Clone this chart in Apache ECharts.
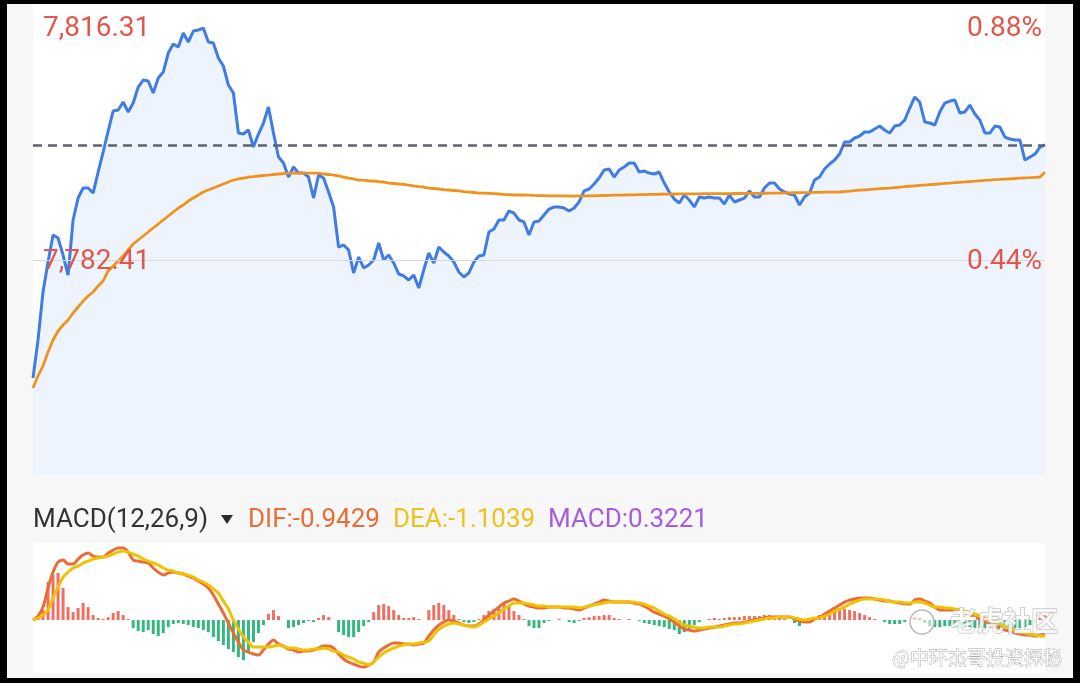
<!DOCTYPE html>
<html>
<head>
<meta charset="utf-8">
<script src="https://cdn.jsdelivr.net/npm/echarts@6/dist/echarts.min.js"></script>
<style>
html,body{margin:0;padding:0;background:#000;}
#c{width:1080px;height:683px;}
</style>
</head>
<body>
<div id="c"></div>
<script>
// ---- intraday price (one point per bar) ----
const price = [
7765.17,7770.73,7777.74,7782.12,7786.07,7785.63,7783.14,7780.22,7788.26,7791.47,
7792.93,7792.93,7792.20,7795.27,7798.19,7801.26,7804.18,7804.33,7805.50,7804.04,
7805.35,7807.69,7808.71,7808.57,7806.81,7809.00,7809.88,7812.66,7813.97,7813.53,
7815.58,7814.26,7815.87,7816.02,7816.31,7814.26,7814.12,7811.93,7810.76,7807.98,
7806.81,7800.97,7800.82,7801.41,7798.92,7800.82,7802.43,7804.77,7800.97,7797.46,
7796.59,7794.54,7796.00,7795.12,7795.12,7794.54,7791.47,7794.83,7794.39,7792.35,
7790.16,7784.31,7784.61,7783.88,7780.52,7782.85,7781.25,7781.68,7782.41,7784.90,
7782.41,7783.14,7781.98,7780.37,7780.08,7779.49,7780.22,7778.32,7780.95,7783.44,
7781.98,7784.31,7783.58,7783.00,7782.12,7780.66,7779.93,7780.52,7782.12,7783.00,
7783.14,7786.51,7786.94,7788.26,7788.26,7789.57,7789.28,7788.26,7787.97,7786.07,
7787.97,7788.11,7788.99,7789.86,7790.16,7790.16,7790.01,7789.57,7790.01,7790.89,
7792.50,7792.79,7793.52,7794.39,7795.56,7795.71,7794.54,7795.56,7796.00,7796.59,
7796.59,7795.27,7795.42,7795.12,7794.98,7795.27,7793.66,7792.35,7791.33,7790.74,
7791.91,7791.18,7790.16,7791.62,7791.47,7791.62,7791.47,7791.47,7790.60,7791.91,
7790.89,7791.18,7791.47,7792.50,7791.62,7791.62,7792.93,7793.66,7793.66,7792.79,
7792.35,7792.06,7791.91,7790.45,7791.62,7792.20,7794.10,7794.54,7795.71,7796.44,
7797.02,7797.90,7799.65,7799.65,7800.24,7800.53,7801.11,7801.11,7801.55,7801.99,
7801.41,7800.97,7801.99,7802.14,7802.87,7804.62,7806.23,7805.50,7802.58,7802.43,
7802.14,7804.04,7805.35,7805.64,7805.79,7803.89,7804.04,7805.06,7803.75,7802.87,
7800.97,7800.97,7801.99,7801.85,7800.38,7800.09,7799.95,7799.95,7797.02,7797.46,
7797.90,7798.92,7799.22
];
// ---- average price line ----
const avgPrice = [
7763.71,7765.47,7766.93,7768.97,7770.73,7772.04,7772.92,7773.65,7774.67,7775.55,
7776.42,7777.15,7777.74,7778.62,7779.35,7780.81,7781.54,7782.27,7783.00,7783.88,
7784.75,7785.34,7785.92,7786.51,7787.09,7787.67,7788.26,7788.84,7789.43,7790.01,
7790.45,7791.03,7791.47,7791.91,7792.35,7792.64,7792.93,7793.23,7793.52,7793.81,
7794.10,7794.25,7794.39,7794.54,7794.61,7794.69,7794.76,7794.83,7794.91,7794.98,
7795.05,7795.12,7795.12,7795.12,7795.12,7795.12,7795.12,7795.12,7794.98,7794.91,
7794.83,7794.69,7794.54,7794.39,7794.25,7794.10,7794.10,7793.96,7793.96,7793.88,
7793.81,7793.66,7793.59,7793.52,7793.45,7793.37,7793.23,7793.15,7793.08,7792.93,
7792.86,7792.79,7792.71,7792.64,7792.57,7792.50,7792.42,7792.35,7792.28,7792.20,
7792.20,7792.16,7792.12,7792.06,7792.01,7791.97,7791.91,7791.91,7791.91,7791.88,
7791.85,7791.83,7791.81,7791.79,7791.78,7791.77,7791.77,7791.76,7791.76,7791.77,
7791.78,7791.79,7791.80,7791.82,7791.84,7791.86,7791.88,7791.90,7791.91,7791.93,
7791.94,7791.96,7791.97,7791.99,7792.00,7792.02,7792.03,7792.05,7792.06,7792.07,
7792.08,7792.08,7792.09,7792.09,7792.10,7792.10,7792.11,7792.11,7792.12,7792.12,
7792.13,7792.13,7792.14,7792.15,7792.15,7792.16,7792.17,7792.18,7792.19,7792.20,
7792.21,7792.22,7792.24,7792.25,7792.27,7792.28,7792.30,7792.31,7792.32,7792.33,
7792.34,7792.35,7792.42,7792.49,7792.55,7792.61,7792.67,7792.72,7792.78,7792.83,
7792.88,7792.93,7793.00,7793.07,7793.13,7793.19,7793.25,7793.31,7793.37,7793.43,
7793.48,7793.54,7793.60,7793.65,7793.71,7793.77,7793.82,7793.88,7793.93,7793.99,
7794.05,7794.10,7794.15,7794.19,7794.24,7794.28,7794.32,7794.37,7794.41,7794.45,
7794.50,7794.54,7795.27
];
// ---- MACD(12,26,9) ----
const dif = [
0,0.27,0.88,2.18,3.26,3.94,4.08,3.81,3.81,4.15,
4.42,4.56,4.35,4.28,4.28,4.56,4.76,4.90,4.90,4.62,
4.08,4.01,3.94,3.88,3.54,3.26,3.06,3.20,3.26,3.20,
3.13,2.99,2.86,2.65,2.45,2.18,1.70,1.09,0.48,-0.20,
-0.88,-1.50,-2.04,-2.18,-2.31,-2.38,-2.04,-1.63,-1.36,-1.63,
-1.77,-1.97,-2.04,-2.18,-2.11,-2.11,-2.04,-1.90,-1.77,-1.77,
-1.90,-2.31,-2.65,-2.86,-2.99,-3.13,-3.20,-3.06,-2.86,-2.18,
-1.90,-1.70,-1.56,-1.56,-1.63,-1.63,-1.70,-1.63,-1.56,-1.09,
-0.68,-0.34,-0.14,0.00,-0.07,-0.20,-0.34,-0.41,-0.41,-0.27,
0.00,0.34,0.61,0.88,1.16,1.29,1.43,1.29,1.09,0.95,
0.88,0.82,0.82,0.88,0.88,0.88,0.82,0.82,0.75,0.68,
0.82,0.95,1.09,1.22,1.36,1.29,1.22,1.22,1.22,1.22,
1.16,1.09,0.95,0.75,0.54,0.41,0.27,0.07,-0.14,-0.41,
-0.61,-0.68,-0.75,-0.68,-0.61,-0.54,-0.48,-0.41,-0.34,-0.27,
-0.20,-0.20,-0.14,-0.07,0.00,0.07,0.14,0.20,0.20,0.20,
0.20,0.20,0.07,-0.07,-0.14,-0.14,0.07,0.20,0.41,0.61,
0.82,1.02,1.22,1.36,1.43,1.50,1.50,1.50,1.43,1.36,
1.29,1.29,1.22,1.16,1.09,1.09,1.36,1.43,1.29,1.16,
0.88,0.68,0.68,0.68,0.68,0.68,0.54,0.34,0.20,0.07,
-0.14,-0.27,-0.41,-0.54,-0.68,-0.75,-0.88,-0.95,-1.02,-1.02,
-1.09,-1.02,-0.9429
];
const dea = [
0.00,0.14,0.34,0.68,1.50,2.24,2.92,3.26,3.54,3.67,
3.88,4.01,4.15,4.22,4.28,4.35,4.49,4.62,4.69,4.62,
4.49,4.35,4.15,4.01,3.88,3.74,3.54,3.40,3.33,3.20,
3.13,3.06,2.92,2.72,2.58,2.38,2.11,1.84,1.29,0.75,
0.00,-0.61,-1.16,-1.50,-1.84,-1.84,-1.84,-1.84,-1.77,-1.70,
-1.77,-1.90,-1.90,-1.97,-2.04,-2.04,-1.97,-1.97,-1.90,-1.97,
-2.11,-2.18,-2.38,-2.52,-2.65,-2.86,-2.92,-3.06,-2.86,-2.52,
-2.24,-2.04,-1.90,-1.77,-1.70,-1.63,-1.63,-1.56,-1.50,-1.43,
-1.02,-0.61,-0.41,-0.27,-0.20,-0.27,-0.34,-0.41,-0.48,-0.34,
-0.14,0.07,0.27,0.48,0.75,0.95,1.16,1.16,1.16,1.09,
1.02,0.95,0.95,0.88,0.88,0.88,0.88,0.88,0.88,0.82,
0.88,0.95,1.02,1.09,1.16,1.22,1.22,1.22,1.22,1.22,
1.22,1.16,1.09,0.95,0.82,0.61,0.41,0.27,0.07,-0.14,
-0.34,-0.41,-0.48,-0.54,-0.54,-0.48,-0.48,-0.48,-0.41,-0.34,
-0.27,-0.27,-0.20,-0.14,-0.07,0.00,0.07,0.14,0.14,0.20,
0.20,0.20,0.14,0.07,0.00,0.07,0.14,0.14,0.27,0.41,
0.61,0.75,0.88,1.09,1.22,1.36,1.43,1.43,1.43,1.43,
1.36,1.29,1.22,1.22,1.16,1.16,1.22,1.22,1.16,1.02,
0.88,0.88,0.82,0.82,0.75,0.68,0.61,0.48,0.41,0.27,
0.14,0.00,-0.14,-0.27,-0.41,-0.54,-0.68,-0.82,-0.88,-0.95,
-1.02,-1.09,-1.1039
];
const macdHist = [
0,0.14,0.68,2.58,3.06,3.20,2.18,0.88,0.54,0.82,
1.16,0.88,0.34,0.14,0.07,0.20,0.48,0.61,0.34,0.07,
-0.54,-0.75,-0.82,-0.68,-0.95,-1.09,-0.88,-0.48,-0.27,-0.20,
-0.27,-0.34,-0.48,-0.54,-0.68,-0.82,-1.16,-1.43,-1.70,-1.97,
-2.18,-2.52,-2.72,-2.24,-1.50,-0.88,-0.34,0.41,0.68,0.27,
0,-0.54,-0.48,-0.34,-0.20,-0.07,-0.14,0.14,0.34,0.20,
0,-0.82,-1.02,-1.16,-1.16,-0.82,-0.41,-0.14,0.54,1.02,
1.09,0.95,0.68,0.34,0.14,0.14,0.20,0.07,0,0.68,
1.02,1.16,1.02,0.68,0.34,0.07,-0.14,-0.20,-0.14,0.07,
0.34,0.61,0.75,0.88,1.16,0.95,0.61,0.34,0.07,-0.41,
-0.54,-0.54,-0.20,-0.07,0,0.07,0,-0.14,-0.20,-0.07,
0.14,0.20,0.27,0.27,0.34,0.34,0.14,0.07,0,0.07,
0,-0.07,-0.20,-0.27,-0.34,-0.41,-0.48,-0.61,-0.68,-0.95,
-0.82,-0.61,-0.34,-0.14,0,0.07,0.14,0.07,0.14,0.20,
0.20,0.20,0.27,0.27,0.27,0.27,0.34,0.34,0.27,0.20,
0.07,0,-0.20,-0.41,-0.20,0,0.20,0.34,0.41,0.54,
0.68,0.82,0.75,0.68,0.61,0.48,0.34,0.20,0.07,0,
-0.14,-0.27,-0.27,-0.27,-0.14,0,0.20,0.14,-0.20,-0.41,
-0.48,-0.48,-0.41,-0.41,-0.48,-0.48,-0.48,-0.48,-0.54,-0.54,
-0.54,-0.54,-0.54,-0.54,-0.54,-0.54,-0.54,-0.54,-0.48,-0.34,
-0.14,0.14,0.3221
];
// ---- axis labels / reference values ----
const priceTicks = [7816.31, 7782.41];
const priceTickLabels = ['7,816.31', '7,782.41'];
const pctTickLabels = ['0.88%', '0.44%'];
const refPrice = 7799.22;
const priceRange = [7751.00, 7819.82];
const macdRange = [-3.60, 5.24];
const macdTitle = 'MACD(12,26,9)';
const legendNames = ['DIF', 'DEA', 'MACD'];
const legendValues = [dif[dif.length - 1], dea[dea.length - 1], macdHist[macdHist.length - 1]];
const bars = price.map((_, i) => i);

const FONT = 'Roboto, "Noto Sans", sans-serif';
const RED_TXT = '#e2574c';
const C_DIF = '#ea6c36';
const C_DEA = '#f2c200';
const C_MACD = '#a45de0';

const chart = echarts.init(document.getElementById('c'));

const option = {
  backgroundColor: '#f7f7f7',
  animation: false,
  grid: [
    { left: 33, right: 35, top: 4, height: 471, show: true, backgroundColor: '#ffffff', borderWidth: 0 },
    { left: 33, right: 35, top: 543, height: 130, show: true, backgroundColor: '#ffffff', borderWidth: 0 }
  ],
  xAxis: [
    { type: 'category', gridIndex: 0, data: bars, boundaryGap: false, show: false },
    { type: 'category', gridIndex: 1, data: bars, boundaryGap: false, show: false }
  ],
  yAxis: [
    { type: 'value', gridIndex: 0, min: priceRange[0], max: priceRange[1], show: false, splitLine: { show: false } },
    { type: 'value', gridIndex: 1, min: macdRange[0], max: macdRange[1], show: false, splitLine: { show: false } }
  ],
  series: [
    {
      name: 'price', type: 'line', xAxisIndex: 0, yAxisIndex: 0, data: price,
      showSymbol: false, symbol: 'none',
      lineStyle: { color: '#3f7ce4', width: 3 },
      areaStyle: { color: '#eef4fd', origin: 'start', opacity: 1 },
      markLine: {
        silent: true, symbol: 'none', label: { show: false },
        data: [
          { yAxis: priceTicks[1], lineStyle: { color: '#dadada', width: 1, type: 'solid' } },
          { yAxis: refPrice, lineStyle: { color: '#5d6270', width: 2.5, type: [9, 6] } }
        ]
      },
      z: 3
    },
    {
      name: 'avg', type: 'line', xAxisIndex: 0, yAxisIndex: 0, data: avgPrice,
      showSymbol: false, symbol: 'none',
      lineStyle: { color: '#f0921c', width: 2.8 }, z: 4
    },
    {
      name: 'MACD', type: 'bar', xAxisIndex: 1, yAxisIndex: 1, data: macdHist,
      barWidth: 3,
      itemStyle: { color: p => (p.value >= 0 ? '#ef6f63' : '#35b77f') }, z: 2
    },
    {
      name: 'DIF', type: 'line', xAxisIndex: 1, yAxisIndex: 1, data: dif,
      showSymbol: false, symbol: 'none', smooth: 0.3,
      lineStyle: { color: C_DIF, width: 3 }, z: 3
    },
    {
      name: 'DEA', type: 'line', xAxisIndex: 1, yAxisIndex: 1, data: dea,
      showSymbol: false, symbol: 'none', smooth: 0.3,
      lineStyle: { color: C_DEA, width: 3 }, z: 4
    }
  ]
};
chart.setOption(option);

// ---- texts placed through the axis scale ----
const g = [];
priceTicks.forEach((v, i) => {
  const y = chart.convertToPixel({ yAxisIndex: 0 }, v) + (i === 0 ? 1 : 2);
  g.push({ type: 'text', x: 43, y, z: 100,
    style: { text: priceTickLabels[i], font: '28px ' + FONT, fill: RED_TXT, textVerticalAlign: 'middle', textAlign: 'left' } });
  g.push({ type: 'text', x: 1042, y, z: 100,
    style: { text: pctTickLabels[i], font: '28px ' + FONT, fill: RED_TXT, textVerticalAlign: 'middle', textAlign: 'right' } });
});
// MACD header
const hy = 520;
g.push({ type: 'text', x: 33, y: hy, z: 100,
  style: { text: macdTitle, font: '26px ' + FONT, fill: '#333333', textVerticalAlign: 'middle' } });
g.push({ type: 'polygon', z: 100, shape: { points: [[221, 515], [233, 515], [227, 524]] }, style: { fill: '#2b2b2b' } });
const legendColors = [C_DIF, '#eec21b', C_MACD];
const legendX = [248, 393, 548];
legendNames.forEach((n, i) => {
  g.push({ type: 'text', x: legendX[i], y: hy, z: 100,
    style: { text: n + ':' + legendValues[i].toFixed(4), font: '26px ' + FONT, fill: legendColors[i], textVerticalAlign: 'middle' } });
});
// watermark
g.push({ type: 'circle', z: 100, shape: { cx: 922, cy: 622, r: 12 }, style: { fill: 'rgba(255,255,255,0.55)', stroke: '#b8b8b8', lineWidth: 1.5 } });
g.push({ type: 'text', x: 950, y: 621, z: 100,
  style: { text: '老虎社区', font: 'bold 27px "Noto Sans CJK SC"', fill: 'rgba(255,255,255,0.8)', stroke: '#b3b3b3', lineWidth: 1, textVerticalAlign: 'middle' } });
g.push({ type: 'text', x: 892, y: 658, z: 100,
  style: { text: '@中环杰哥投资探秘', font: '19px "Noto Sans CJK SC"', fill: 'rgba(255,255,255,0.9)', stroke: '#a8a8a8', lineWidth: 0.8, textVerticalAlign: 'middle' } });
// black frame of the screenshot
g.push({ type: 'rect', z: 200, shape: { x: 0, y: 0, width: 1080, height: 4 }, style: { fill: '#000' } });
g.push({ type: 'rect', z: 200, shape: { x: 0, y: 0, width: 7, height: 683 }, style: { fill: '#000' } });
g.push({ type: 'rect', z: 200, shape: { x: 1073, y: 0, width: 7, height: 683 }, style: { fill: '#000' } });
g.push({ type: 'rect', z: 200, shape: { x: 0, y: 678, width: 1080, height: 5 }, style: { fill: '#000' } });
chart.setOption({ graphic: { elements: g } });
</script>
</body>
</html>
